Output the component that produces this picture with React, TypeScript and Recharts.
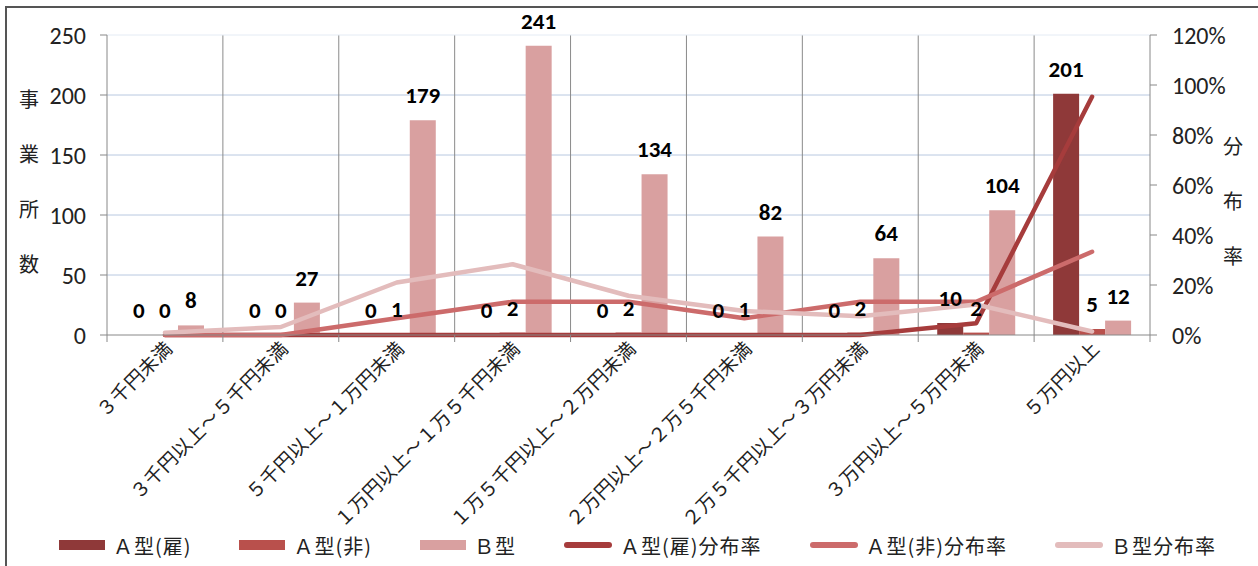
import {
  ComposedChart,
  Bar,
  Line,
  XAxis,
  YAxis,
  CartesianGrid,
  Legend,
  LabelList,
  ReferenceLine,
} from "recharts";

const categories = [
  "３千円未満",
  "３千円以上～５千円未満",
  "５千円以上～１万円未満",
  "１万円以上～１万５千円未満",
  "１万５千円以上～２万円未満",
  "２万円以上～２万５千円未満",
  "２万５千円以上～３万円未満",
  "３万円以上～５万円未満",
  "５万円以上",
];

// 事業所数
const typeAEmployed = [0, 0, 0, 0, 0, 0, 0, 10, 201];
const typeANonEmployed = [0, 0, 1, 2, 2, 1, 2, 2, 5];
const typeB = [8, 27, 179, 241, 134, 82, 64, 104, 12];

// 分布率
const rateAEmployed = [0, 0, 0, 0, 0, 0, 0, 0.047, 0.953];
const rateANonEmployed = [0, 0, 0.067, 0.133, 0.133, 0.067, 0.133, 0.133, 0.333];
const rateB = [0.009, 0.032, 0.21, 0.283, 0.157, 0.096, 0.075, 0.122, 0.014];

const countTicks = [0, 50, 100, 150, 200, 250];
const rateTicks = [0, 0.2, 0.4, 0.6, 0.8, 1.0, 1.2];

const leftTitle = ["事", "業", "所", "数"];
const rightTitle = ["分", "布", "率"];

const legendItems = [
  { label: "Ａ型(雇)", kind: "bar", color: "#8f3939" },
  { label: "Ａ型(非)", kind: "bar", color: "#b9504c" },
  { label: "Ｂ型", kind: "bar", color: "#d9a0a0" },
  { label: "Ａ型(雇)分布率", kind: "line", color: "#a63c3c" },
  { label: "Ａ型(非)分布率", kind: "line", color: "#cc6b6b" },
  { label: "Ｂ型分布率", kind: "line", color: "#e3bcbc" },
];

const chartData = categories.map((name, i) => ({
  name,
  aEmp: typeAEmployed[i],
  aNon: typeANonEmployed[i],
  b: typeB[i],
  rAEmp: rateAEmployed[i],
  rANon: rateANonEmployed[i],
  rB: rateB[i],
}));

const WIDTH = 1258;
const HEIGHT = 566;
const LEFT_W = 107;
const RIGHT_W = 108;
const BAND = (WIDTH - LEFT_W - RIGHT_W) / categories.length;
const BAR_SIZE = 26;

const numFont = "Carlito, Lato, 'Noto Sans', sans-serif";
const jpFont = "'Noto Sans CJK JP', sans-serif";

const CategoryTick = ({ x, y, payload, index }: any) => {
  const half = BAND / 2;
  return (
    <g>
      <line x1={x - half} x2={x - half} y1={y} y2={y + 7} stroke="#888" />
      {index === categories.length - 1 && (
        <line x1={x + half} x2={x + half} y1={y} y2={y + 7} stroke="#888" />
      )}
      <text
        x={0}
        y={0}
        transform={`translate(${x + 4},${y + 10}) rotate(-45)`}
        textAnchor="end"
        dy="0.35em"
        fontSize={19}
        letterSpacing={0.4}
        fontFamily={jpFont}
        fill="#222"
      >
        {payload.value}
      </text>
    </g>
  );
};

const StackedTitle = ({ viewBox, chars, dx, top }: any) => (
  <g>
    {chars.map((c: string, i: number) => (
      <text
        key={c}
        x={viewBox.x + dx}
        y={viewBox.y + top + i * 55}
        textAnchor="middle"
        dominantBaseline="central"
        fontSize={20}
        fontFamily={jpFont}
        fill="#222"
      >
        {c}
      </text>
    ))}
  </g>
);

// value label above each bar (also for zero-height bars)
const barLabel = (shift: number) => (props: any) => (
  <text
    x={props.x + shift}
    y={props.y - 17}
    textAnchor="middle"
    fontFamily={numFont}
    fontSize={23}
    fontWeight={700}
    fill="#000"
  >
    {props.value}
  </text>
);

const ChartLegend = () => (
  <div
    style={{
      height: 60,
      boxSizing: "border-box",
      paddingTop: 18,
      paddingLeft: 17,
      display: "flex",
      justifyContent: "center",
      alignItems: "center",
      gap: 48,
      fontFamily: jpFont,
      fontSize: 20,
      letterSpacing: 1,
      color: "#222",
    }}
  >
    {legendItems.map((item) => (
      <div key={item.label} style={{ display: "flex", alignItems: "center", gap: 8 }}>
        {item.kind === "bar" ? (
          <div style={{ width: 46, height: 10, background: item.color }} />
        ) : (
          <div
            style={{ width: 48, height: 6, borderRadius: 3, background: item.color }}
          />
        )}
        <span>{item.label}</span>
      </div>
    ))}
  </div>
);

const rateLine = (key: string, name: string, color: string) => (
  <Line
    yAxisId="rate"
    type="linear"
    dataKey={key}
    name={name}
    stroke={color}
    strokeWidth={4.5}
    strokeLinecap="round"
    strokeLinejoin="round"
    dot={false}
    activeDot={false}
    isAnimationActive={false}
    legendType="none"
  />
);

const labelLine = (key: string, shift: number) => (
  <Line
    yAxisId="count"
    type="linear"
    dataKey={key}
    stroke="none"
    dot={false}
    activeDot={false}
    isAnimationActive={false}
    legendType="none"
  >
    <LabelList dataKey={key} content={barLabel(shift)} />
  </Line>
);

export default function App() {
  return (
    <div
      style={{
        position: "absolute",
        left: 0,
        top: 0,
        width: WIDTH,
        height: HEIGHT,
        overflow: "hidden",
        background: "#fff",
      }}
    >
      <div
        style={{
          position: "absolute",
          left: 5,
          top: 6,
          width: WIDTH + 40,
          height: HEIGHT + 40,
          border: "2px solid #555",
        }}
      />
      <ComposedChart
        width={WIDTH}
        height={HEIGHT}
        data={chartData}
        margin={{ top: 35, right: 0, bottom: 0, left: 0 }}
        barGap={0}
        style={{ position: "absolute", left: 0, top: 0 }}
      >
        {/* horizontal grid: light blue */}
        <CartesianGrid
          stroke="#b8c8e0"
          vertical={false}
          horizontalCoordinatesGenerator={({ offset }: any) =>
            countTicks
              .slice(1, -1)
              .map((t) => offset.top + offset.height * (1 - t / 250))
          }
          yAxisId="count"
        />
        {/* vertical grid: gray, on category boundaries */}
        <CartesianGrid
          stroke="#8a8a8a"
          horizontal={false}
          verticalCoordinatesGenerator={({ offset }: any) =>
            Array.from({ length: categories.length - 1 }, (_, i) =>
              offset.left + ((i + 1) * offset.width) / categories.length
            )
          }
          yAxisId="count"
        />
        <ReferenceLine yAxisId="count" y={250} stroke="#e4ebf4" />
        <XAxis
          dataKey="name"
          interval={0}
          height={171}
          tickSize={0}
          tickMargin={0}
          tickLine={false}
          axisLine={{ stroke: "#888" }}
          tick={<CategoryTick />}
        />
        <YAxis
          yAxisId="count"
          orientation="left"
          width={LEFT_W}
          domain={[0, 250]}
          ticks={countTicks}
          interval={0}
          tickSize={7}
          tickMargin={14}
          axisLine={{ stroke: "#888" }}
          tickLine={{ stroke: "#888" }}
          tick={{ fontSize: 24, fontFamily: numFont, fill: "#222" }}
          label={{
            content: (props: any) => (
              <StackedTitle {...props} chars={leftTitle} dx={29} top={63} />
            ),
          }}
        />
        <YAxis
          yAxisId="rate"
          orientation="right"
          width={RIGHT_W}
          domain={[0, 1.2]}
          ticks={rateTicks}
          interval={0}
          tickSize={7}
          tickMargin={15}
          axisLine={{ stroke: "#888" }}
          tickLine={{ stroke: "#888" }}
          tickFormatter={(v: number) => `${Math.round(v * 100)}%`}
          tick={{ fontSize: 24, fontFamily: numFont, fill: "#222" }}
          label={{
            content: (props: any) => (
              <StackedTitle {...props} chars={rightTitle} dx={83} top={110} />
            ),
          }}
        />
        <Legend verticalAlign="bottom" content={<ChartLegend />} />

        <Bar yAxisId="count" dataKey="aEmp" name="Ａ型(雇)" fill="#8f3939" barSize={BAR_SIZE} isAnimationActive={false} />
        <Bar yAxisId="count" dataKey="aNon" name="Ａ型(非)" fill="#b9504c" barSize={BAR_SIZE} isAnimationActive={false} />
        <Bar yAxisId="count" dataKey="b" name="Ｂ型" fill="#d9a0a0" barSize={BAR_SIZE} isAnimationActive={false} />

        {rateLine("rAEmp", "Ａ型(雇)分布率", "#a63c3c")}
        {rateLine("rANon", "Ａ型(非)分布率", "#cc6b6b")}
        {rateLine("rB", "Ｂ型分布率", "#e3bcbc")}

        {labelLine("aEmp", -BAR_SIZE)}
        {labelLine("aNon", 0)}
        {labelLine("b", BAR_SIZE)}
      </ComposedChart>
    </div>
  );
}
